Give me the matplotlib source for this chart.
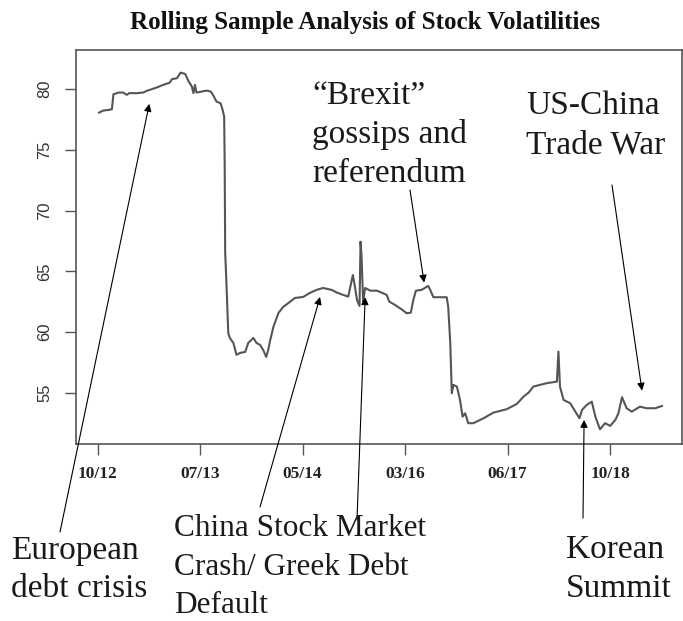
#!/usr/bin/env python3
"""Rolling sample analysis of stock volatilities, with annotated events."""

from __future__ import annotations

import matplotlib

matplotlib.use("Agg")
import matplotlib.pyplot as plt


# observation index (trading-day count) and rolling volatility value
OBS_INDEX = [
    203, 211, 221, 228, 231, 241, 250, 257, 262, 276, 289, 296, 315, 328, 341,
    345, 355, 362, 371, 377, 384, 387, 390, 393, 403, 413, 421, 427, 432, 440,
    444, 447, 448, 449, 451, 455, 458, 465, 471, 478, 488, 494, 504, 510, 517,
    523, 529, 533, 536, 543, 553, 562, 575, 585, 601, 614, 627, 640, 657, 667,
    679, 689, 698, 702, 706, 711, 713, 715, 718, 722, 732, 745, 754, 764, 769,
    780, 793, 803, 811, 816, 821, 832, 845, 849, 855, 881, 884, 888, 891, 894,
    901, 907, 912, 917, 923, 933, 953, 972, 998, 1018, 1031, 1041, 1050, 1076,
    1096, 1099, 1102, 1109, 1122, 1132, 1140, 1145, 1154, 1164, 1171, 1180,
    1190, 1200, 1210, 1216, 1223, 1232, 1242, 1258, 1271, 1288, 1301,
]
VOLATILITY = [
    78.05, 78.22, 78.27, 78.33, 79.56, 79.70, 79.70, 79.51, 79.65, 79.65,
    79.70, 79.84, 80.11, 80.33, 80.52, 80.80, 80.88, 81.34, 81.23, 80.68,
    80.19, 79.65, 80.33, 79.70, 79.78, 79.86, 79.78, 79.37, 78.96, 78.82,
    78.27, 77.72, 73.91, 66.50, 64.50, 59.93, 59.52, 59.11, 58.13, 58.29,
    58.37, 59.11, 59.52, 59.11, 58.95, 58.54, 57.96, 58.54, 59.19, 60.43,
    61.58, 62.07, 62.48, 62.81, 62.89, 63.22, 63.47, 63.63, 63.47, 63.25,
    63.06, 62.92, 64.70, 63.74, 62.65, 62.15, 67.44, 66.21, 62.51, 63.63,
    63.41, 63.41, 63.25, 63.06, 62.51, 62.24, 61.88, 61.55, 61.60, 62.65,
    63.41, 63.47, 63.80, 63.47, 62.87, 62.87, 62.10, 59.09, 54.98, 55.66,
    55.52, 54.42, 53.05, 53.33, 52.51, 52.51, 52.92, 53.38, 53.66, 54.10,
    54.70, 55.03, 55.52, 55.80, 55.93, 58.40, 55.52, 54.42, 54.15, 53.46,
    52.92, 53.60, 54.01, 54.28, 53.05, 52.01, 52.51, 52.29, 52.78, 53.33,
    54.65, 53.74, 53.46, 53.87, 53.74, 53.74, 53.93,
]

TICK_INDEX = [200, 400, 600, 800, 1000, 1200]
TICK_LABELS = ["10/12", "07/13", "05/14", "03/16", "06/17", "10/18"]
Y_TICKS = [55, 60, 65, 70, 75, 80]

# event label, observation index and value the arrow points at
EVENT_TEXT = [
    "European\ndebt crisis",
    "China Stock Market\nCrash/ Greek Debt\nDefault",
    "",
    "\u201cBrexit\u201d\ngossips and\nreferendum",
    "US-China\nTrade War",
    "Korean\nSummit",
]
EVENT_INDEX = [301, 634, 722, 837, 1262, 1149]
EVENT_VALUE = [78.77, 62.89, 62.87, 64.07, 55.19, 52.78]

FIG_W, FIG_H = 683, 621
SERIF = ["Liberation Serif", "DejaVu Serif"]

# pixel layout (from top-left) for arrow tails, label anchors and label sizes
ARROW_TAILS = [(60, 532), (260, 507), (357, 520), (410, 190), (612, 185), (583, 518)]
LABEL_ANCHORS = [(11, 535), (174, 514), None, (312, 80), (526, 91), (566, 535)]
LABEL_SIZES = [24, 22.5, 0, 24, 24, 24]


def fig_frac(px: float, py: float) -> tuple[float, float]:
    return px / FIG_W, 1 - py / FIG_H


def main() -> int:
    fig = plt.figure(figsize=(FIG_W / 100, FIG_H / 100), dpi=100)
    left, right = 76 / FIG_W, 682 / FIG_W
    top, bottom = 1 - 50 / FIG_H, 1 - 444 / FIG_H
    ax = fig.add_axes([left, bottom, right - left, top - bottom])

    ax.plot(OBS_INDEX, VOLATILITY, color="#555555", linewidth=1.5)
    ax.set_xlim(158, 1340)
    ax.set_ylim(50.8, 83.2)

    ax.set_xticks(TICK_INDEX)
    ax.set_xticklabels(TICK_LABELS, family=SERIF, fontsize=12.5, fontweight="bold", color="#222222")
    ax.set_yticks(Y_TICKS)
    ax.set_yticklabels([str(v) for v in Y_TICKS], family="Liberation Sans", fontsize=12,
                       rotation=90, va="center", color="#333333")
    ax.tick_params(axis="both", direction="out", length=8, width=1.0, color="#555555")
    ax.tick_params(axis="x", pad=8)
    ax.tick_params(axis="y", pad=9)
    for spine in ax.spines.values():
        spine.set_color("#555555")
        spine.set_linewidth(1.2)

    fig.text(365 / FIG_W, 1 - 22 / FIG_H, "Rolling Sample Analysis of Stock Volatilities",
             family=SERIF, fontsize=18, fontweight="bold", ha="center", va="center", color="#111111")

    for text, idx, value, tail, anchor, size in zip(EVENT_TEXT, EVENT_INDEX, EVENT_VALUE,
                                                   ARROW_TAILS, LABEL_ANCHORS, LABEL_SIZES):
        ax.annotate(
            "",
            xy=(idx, value),
            xycoords="data",
            xytext=fig_frac(*tail),
            textcoords="figure fraction",
            annotation_clip=False,
            arrowprops=dict(arrowstyle="-|>", color="black", lw=0.8, mutation_scale=11,
                            shrinkA=0, shrinkB=0),
        )
        if anchor is not None and text:
            fig.text(*fig_frac(*anchor), text, family=SERIF, fontsize=size, ha="left", va="top",
                     color="#1a1a1a", linespacing=1.35 * 24 / size)

    fig.savefig("out.png", dpi=100)
    plt.close(fig)
    return 0


if __name__ == "__main__":
    raise SystemExit(main())
